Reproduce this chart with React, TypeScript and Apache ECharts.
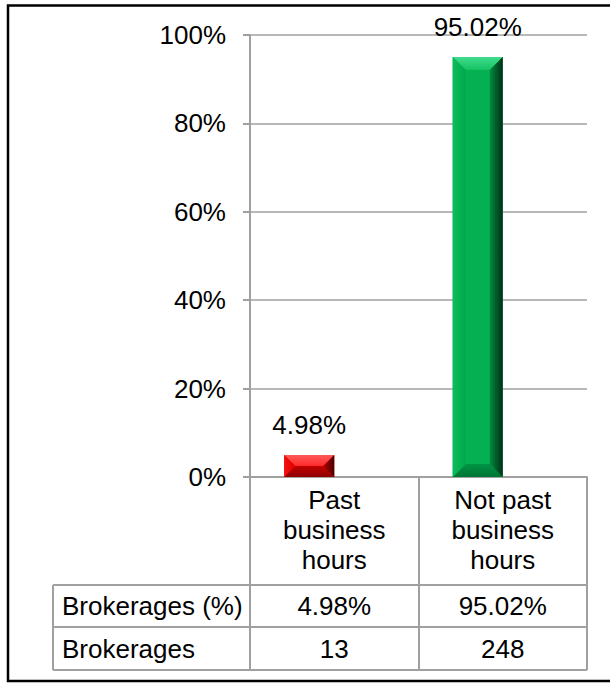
import React, { useEffect, useRef } from "react";
import * as echarts from "echarts";

const categories = ["Past\nbusiness\nhours", "Not past\nbusiness\nhours"];
const percentValues = [4.98, 95.02];
const counts = [13, 248];
const rowLabels = ["Brokerages (%)", "Brokerages"];
const yMin = 0;
const yMax = 100;
const yInterval = 20;

const FONT = '"Liberation Sans", Arial, sans-serif';
const GRAY = "#a0a0a0";

const palettes = [
  {
    top: ["#ff5a5a", "#ff2a2a"],
    left: ["#f41010", "#e00000"],
    right: ["#b00000", "#4a0000"],
    bottom: ["#c00000", "#900000"],
    center: "#e80000",
  },
  {
    top: ["#40dc8e", "#14c262"],
    left: ["#0cbc5a", "#00aa4c"],
    right: ["#008a3c", "#003016"],
    bottom: ["#009444", "#007434"],
    center: "#04b052",
  },
];

const vg = (c: string[]) =>
  new echarts.graphic.LinearGradient(0, 0, 0, 1, [
    { offset: 0, color: c[0] },
    { offset: 1, color: c[1] },
  ]);
const hg = (c: string[]) =>
  new echarts.graphic.LinearGradient(0, 0, 1, 0, [
    { offset: 0, color: c[0] },
    { offset: 1, color: c[1] },
  ]);

export default function App() {
  const ref = useRef<HTMLDivElement>(null);

  useEffect(() => {
    if (!ref.current) return;
    const chart = echarts.init(ref.current, null, { renderer: "svg" });

    const renderItem = (params: any, api: any) => {
      const idx = api.value(0);
      const val = api.value(1);
      const top = api.coord([idx, val]);
      const base = api.coord([idx, 0]);
      const bw = api.size([1, 0])[0] * 0.297;
      // bars sit just left of the category centre (first slot of a two-slot cluster)
      const x1 = top[0];
      const x0 = x1 - bw;
      const cx = (x0 + x1) / 2;
      const y0 = top[1];
      const y1 = base[1];
      const b = Math.min(13, (y1 - y0) / 2, bw / 2);
      const p = palettes[idx % palettes.length];
      return {
        type: "group",
        children: [
          {
            type: "rect",
            shape: { x: x0, y: y0, width: bw, height: y1 - y0 },
            style: { fill: p.center },
          },
          {
            type: "polygon",
            shape: { points: [[x0, y0], [x1, y0], [x1 - b, y0 + b], [x0 + b, y0 + b]] },
            style: { fill: vg(p.top) },
          },
          {
            type: "polygon",
            shape: { points: [[x0, y1], [x1, y1], [x1 - b, y1 - b], [x0 + b, y1 - b]] },
            style: { fill: vg(p.bottom) },
          },
          {
            type: "polygon",
            shape: { points: [[x0, y0], [x0 + b, y0 + b], [x0 + b, y1 - b], [x0, y1]] },
            style: { fill: hg(p.left) },
          },
          {
            type: "polygon",
            shape: { points: [[x1, y0], [x1 - b, y0 + b], [x1 - b, y1 - b], [x1, y1]] },
            style: { fill: hg(p.right) },
          },
          {
            type: "text",
            style: {
              text: val.toFixed(2) + "%",
              x: cx,
              y: y0 - 30,
              align: "center",
              textAlign: "center",
              verticalAlign: "middle",
              textVerticalAlign: "middle",
              font: "26px " + FONT,
              fill: "#000",
            },
          },
        ],
      };
    };

    const gridLeft = 250;
    const gridRight = 23;
    const gridTop = 35;
    const gridBottom = 206;

    chart.setOption({
      animation: false,
      grid: { left: gridLeft, right: gridRight, top: gridTop, bottom: gridBottom, containLabel: false },
      xAxis: {
        type: "category",
        data: categories,
        boundaryGap: true,
        axisLine: { show: true, lineStyle: { color: GRAY, width: 2 } },
        axisTick: { show: true, length: 193, lineStyle: { color: GRAY, width: 2 } },
        axisLabel: {
          interval: 0,
          margin: 8,
          fontSize: 26,
          lineHeight: 30,
          color: "#000",
          fontFamily: FONT,
        },
      },
      yAxis: {
        type: "value",
        min: yMin,
        max: yMax,
        interval: yInterval,
        axisLine: { show: true, lineStyle: { color: GRAY, width: 2 } },
        axisTick: { show: true, length: 7, lineStyle: { color: GRAY, width: 2 } },
        splitLine: { show: true, lineStyle: { color: GRAY, width: 1.5 } },
        axisLabel: {
          formatter: "{value}%",
          margin: 24,
          fontSize: 26,
          color: "#000",
          fontFamily: FONT,
        },
      },
      series: [
        {
          type: "custom",
          renderItem,
          encode: { x: 0, y: 1 },
          data: percentValues.map((v, i) => [i, v]),
          z: 5,
        },
      ],
    });

    const width = ref.current.clientWidth;
    const height = ref.current.clientHeight;
    const axisY = height - gridBottom;
    const tableLeft = 53;
    const tableRight = width - gridRight;
    const rowYs = [axisY + 108, axisY + 150, axisY + 193];
    const centers = percentValues.map((_, i) => chart.convertToPixel({ xAxisIndex: 0 }, i) as number);

    const graphics: any[] = [
      {
        type: "rect",
        shape: { x: 8, y: 5.5, width: 700, height: 675.5 },
        style: { fill: "none", stroke: "#000", lineWidth: 2.5 },
        silent: true,
        z: 100,
      },
    ];
    rowYs.forEach((y) => {
      graphics.push({
        type: "line",
        shape: { x1: tableLeft, y1: y, x2: tableRight, y2: y },
        style: { stroke: GRAY, lineWidth: 2 },
      });
    });
    graphics.push({
      type: "line",
      shape: { x1: tableLeft, y1: rowYs[0], x2: tableLeft, y2: rowYs[2] },
      style: { stroke: GRAY, lineWidth: 2 },
    });
    const rowValues = [
      percentValues.map((v) => v.toFixed(2) + "%"),
      counts.map((c) => String(c)),
    ];
    rowLabels.forEach((label, r) => {
      const cy = (rowYs[r] + rowYs[r + 1]) / 2;
      graphics.push({
        type: "text",
        x: tableLeft + 9,
        y: cy,
        style: {
          text: label,
          font: "26px " + FONT,
          fill: "#000",
          align: "left",
          textAlign: "left",
          verticalAlign: "middle",
          textVerticalAlign: "middle",
        },
      });
      rowValues[r].forEach((t, i) => {
        graphics.push({
          type: "text",
          x: centers[i],
          y: cy,
          style: {
            text: t,
            font: "26px " + FONT,
            fill: "#000",
            align: "center",
            textAlign: "center",
            verticalAlign: "middle",
            textVerticalAlign: "middle",
          },
        });
      });
    });

    chart.setOption({ graphic: { elements: graphics } });

    return () => chart.dispose();
  }, []);

  return (
    <div
      ref={ref}
      style={{ position: "fixed", left: 0, top: 0, width: 610, height: 683, background: "#fff" }}
    />
  );
}
